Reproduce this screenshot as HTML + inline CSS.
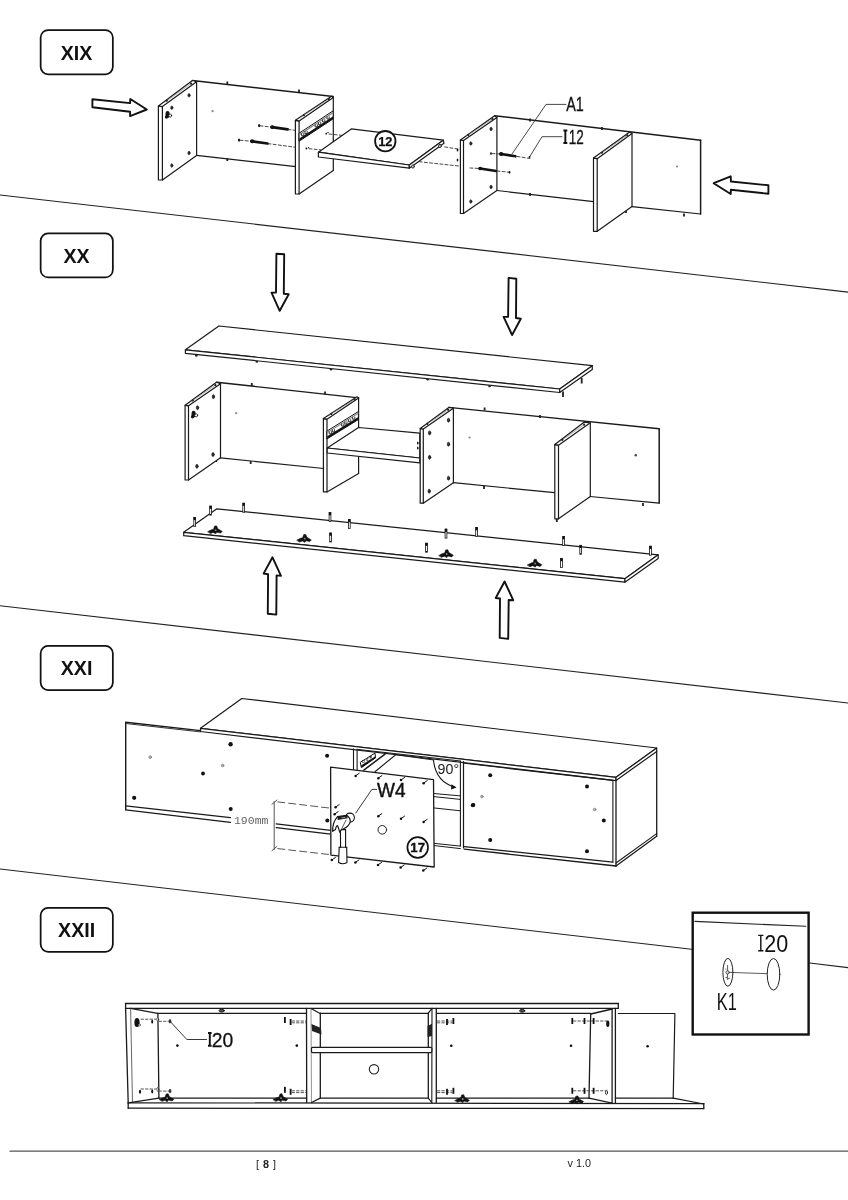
<!DOCTYPE html>
<html><head><meta charset="utf-8"><style>
html,body{margin:0;padding:0;background:#fff;width:848px;height:1200px;overflow:hidden;}
svg{position:absolute;left:0;top:0;display:block;will-change:transform;}
</style></head><body>
<svg width="848" height="1200" viewBox="0 0 848 1200" stroke-linecap="round">
<rect x="40.65" y="30.05" width="72.19999999999999" height="44.19999999999999" rx="7.5" ry="7.5" fill="none" stroke="#111" stroke-width="1.75"/>
<text x="76.6" y="59.9" font-family="Liberation Sans" font-size="19.6" font-weight="bold" text-anchor="middle" fill="#111" >XIX</text>
<rect x="40.65" y="233.35" width="72.19999999999999" height="44.10000000000001" rx="7.5" ry="7.5" fill="none" stroke="#111" stroke-width="1.75"/>
<text x="76.6" y="262.6" font-family="Liberation Sans" font-size="19.6" font-weight="bold" text-anchor="middle" fill="#111" >XX</text>
<rect x="40.65" y="645.85" width="72.19999999999999" height="44.199999999999974" rx="7.5" ry="7.5" fill="none" stroke="#111" stroke-width="1.75"/>
<text x="76.6" y="675.3" font-family="Liberation Sans" font-size="19.6" font-weight="bold" text-anchor="middle" fill="#111" >XXI</text>
<rect x="40.65" y="907.85" width="72.19999999999999" height="43.90000000000002" rx="7.5" ry="7.5" fill="none" stroke="#111" stroke-width="1.75"/>
<text x="76.6" y="936.9" font-family="Liberation Sans" font-size="19.6" font-weight="bold" text-anchor="middle" fill="#111" >XXII</text>
<line x1="0" y1="195" x2="848" y2="292.1" stroke="#222" stroke-width="1.1" />
<line x1="0" y1="605.7" x2="848" y2="703" stroke="#222" stroke-width="1.1" />
<line x1="0" y1="869" x2="691.5" y2="949.3" stroke="#222" stroke-width="1.1" />
<line x1="809.8" y1="963" x2="848" y2="967.6" stroke="#222" stroke-width="1.1" />
<polygon points="92.4,99.2 130.1,103.1 130.3,99 146.8,109.5 130.1,116.1 130.1,111.7 92.4,107.2" fill="white" stroke="#111" stroke-width="1.9" stroke-linejoin="round" />
<polygon points="713.7,183.2 730.7,176.3 730.9,181.5 768.4,185.3 768.4,193.8 730.9,189.7 730.7,194" fill="white" stroke="#111" stroke-width="1.9" stroke-linejoin="round" />
<polygon points="276.4,253.7 284.2,254.3 283.8,293.8 288.7,294.2 279.7,310.8 271.5,292.6 276,292.6" fill="white" stroke="#111" stroke-width="1.9" stroke-linejoin="round" />
<polygon points="508.6,277.9 516.3,278.7 516,318 520.8,318.7 512.1,335 503.6,316.9 508.1,316.9" fill="white" stroke="#111" stroke-width="1.9" stroke-linejoin="round" />
<polygon points="272.5,557.3 281,575.9 276.6,575.4 276.3,614.6 267.8,613.7 268.1,574.2 263.6,573.6" fill="white" stroke="#111" stroke-width="1.9" stroke-linejoin="round" />
<polygon points="504.6,581.5 513.2,600.2 508.7,600 508.2,638.9 499.7,637.9 500,598.5 495.7,598" fill="white" stroke="#111" stroke-width="1.9" stroke-linejoin="round" />
<line x1="10" y1="1151.2" x2="848" y2="1151.2" stroke="#555" stroke-width="1.2" />
<text x="266" y="1167.5" font-family="Liberation Sans" font-size="10.8" font-weight="normal" text-anchor="middle" fill="#222" >[<tspan font-weight="bold" dx="4">8</tspan><tspan dx="4">]</tspan></text>
<text x="579.3" y="1167" font-family="Liberation Sans" font-size="10.8" font-weight="normal" text-anchor="middle" fill="#222" >v 1.0</text>
<polygon points="196.6,81.8 333.3,96.5 333.3,170.4 196.6,155.4" fill="white" stroke="#1a1a1a" stroke-width="0" stroke-linejoin="round" />
<line x1="192.4" y1="80.5" x2="333.3" y2="96.5" stroke="#1a1a1a" stroke-width="1.4" />
<line x1="196.6" y1="155.4" x2="295.7" y2="166.7" stroke="#1a1a1a" stroke-width="1.2" />
<circle cx="212.6" cy="111.2" r="1.1" fill="#888"/>
<rect x="226.4" y="81.5" width="1.8" height="3" fill="#222"/>
<rect x="298.1" y="89.5" width="1.8" height="3" fill="#222"/>
<rect x="226.4" y="158" width="1.8" height="3" fill="#222"/>
<polygon points="162.4,106.6 196.6,81.8 196.6,155.4 162.4,180" fill="white"/>
<polygon points="158.4,180 158.4,106 162.4,106.6 162.4,180" fill="white" stroke="#1a1a1a" stroke-width="1.2" stroke-linejoin="round" />
<polygon points="158.4,106 192.4,80.5 196.6,81.8 162.4,106.6" fill="white" stroke="#1a1a1a" stroke-width="1.2" stroke-linejoin="round" />
<line x1="164.75600000000003" y1="102.15" x2="191.12" y2="83.625" stroke="#888" stroke-width="0.7"/>
<circle cx="166.78400000000002" cy="100.725" r="1.1" fill="#222"/>
<circle cx="191.12" cy="83.625" r="1.1" fill="#222"/>
<line x1="162.4" y1="180" x2="196.6" y2="155.4" stroke="#1a1a1a" stroke-width="1.2" />
<line x1="196.6" y1="81.8" x2="196.6" y2="155.4" stroke="#1a1a1a" stroke-width="1.2" />
<ellipse cx="189" cy="95.3" rx="1.1" ry="1.8" fill="#333" stroke="#111" stroke-width="0.6"/>
<ellipse cx="171.8" cy="107.7" rx="1.1" ry="1.8" fill="#333" stroke="#111" stroke-width="0.6"/>
<ellipse cx="189" cy="153" rx="1.1" ry="1.8" fill="#333" stroke="#111" stroke-width="0.6"/>
<ellipse cx="171.8" cy="165.5" rx="1.1" ry="1.8" fill="#333" stroke="#111" stroke-width="0.6"/>
<ellipse cx="167.6" cy="114.4" rx="2.1" ry="3.4" fill="#111" stroke="none" stroke-width="1" transform="rotate(0 167.6 114.4)"/>
<ellipse cx="166.5" cy="117" rx="1.6" ry="1.8" fill="#111" stroke="none" stroke-width="1" transform="rotate(0 166.5 117)"/>
<ellipse cx="170.2" cy="115.6" rx="1.5" ry="1.5" fill="#fff" stroke="#111" stroke-width="0.8" transform="rotate(0 170.2 115.6)"/>
<ellipse cx="259.1" cy="125.6" rx="1.1" ry="1.7" fill="#111" stroke="none" stroke-width="1" transform="rotate(0 259.1 125.6)"/>
<line x1="260" y1="125.8" x2="272" y2="127.1" stroke="#333" stroke-width="0.9" stroke-dasharray="3,2.2"/>
<line x1="272.1" y1="127.1" x2="287.8" y2="129.4" stroke="#111" stroke-width="2.7" />
<line x1="272.1" y1="127.1" x2="272.40000000000003" y2="127.1" stroke="#111" stroke-width="3.9000000000000004" />
<line x1="288" y1="129.5" x2="295.7" y2="130.4" stroke="#333" stroke-width="0.9" stroke-dasharray="3,2.2"/>
<ellipse cx="239" cy="140.1" rx="1.1" ry="1.7" fill="#111" stroke="none" stroke-width="1" transform="rotate(0 239 140.1)"/>
<line x1="240" y1="140.2" x2="252" y2="141.3" stroke="#333" stroke-width="0.9" stroke-dasharray="3,2.2"/>
<line x1="252" y1="141.3" x2="267.6" y2="143.5" stroke="#111" stroke-width="2.7" />
<line x1="252" y1="141.3" x2="252.3" y2="141.3" stroke="#111" stroke-width="3.9000000000000004" />
<line x1="268" y1="143.6" x2="295.7" y2="147.3" stroke="#333" stroke-width="0.9" stroke-dasharray="3,2.2"/>
<polygon points="299.1,120.89999999999999 333.3,97.4 333.3,170.4 299.1,194" fill="white"/>
<polygon points="295.4,194 295.4,120.3 299.1,120.89999999999999 299.1,194" fill="white" stroke="#1a1a1a" stroke-width="1.2" stroke-linejoin="round" />
<polygon points="295.4,120.3 331.5,96.2 333.3,97.4 299.1,120.89999999999999" fill="white" stroke="#1a1a1a" stroke-width="1.2" stroke-linejoin="round" />
<line x1="301.732" y1="116.612" x2="328.91499999999996" y2="99.14" stroke="#888" stroke-width="0.7"/>
<circle cx="303.823" cy="115.268" r="1.1" fill="#222"/>
<circle cx="328.91499999999996" cy="99.14" r="1.1" fill="#222"/>
<line x1="299.1" y1="194" x2="333.3" y2="170.4" stroke="#1a1a1a" stroke-width="1.2" />
<line x1="333.3" y1="97.4" x2="333.3" y2="170.4" stroke="#1a1a1a" stroke-width="1.2" />
<polygon points="299.3,133.1 333.2,110.8 333.2,118.8 299.3,141.1" fill="white" stroke="#111" stroke-width="1" stroke-linejoin="round"/>
<polygon points="299.3,138.54 333.2,116.24 333.2,118.8 299.3,141.1" fill="#111"/>
<polygon points="299.3,134.06 333.2,111.75999999999999 333.2,113.2 299.3,135.5" fill="#888"/>
<path d="M301.59,133.75 L301.59,135.83 L303.79,135.67000000000002 L303.79,133.59" fill="none" stroke="#222" stroke-width="0.9"/>
<path d="M304.97999999999996,131.51999999999998 L304.97999999999996,133.6 L307.18,133.44 L307.18,131.35999999999999" fill="none" stroke="#222" stroke-width="0.9"/>
<path d="M315.15,124.82999999999998 L315.15,126.90999999999998 L317.35,126.74999999999999 L317.35,124.66999999999999" fill="none" stroke="#222" stroke-width="0.9"/>
<path d="M318.53999999999996,122.6 L318.53999999999996,124.67999999999999 L320.74,124.52 L320.74,122.44" fill="none" stroke="#222" stroke-width="0.9"/>
<path d="M322.60799999999995,119.92399999999999 L322.60799999999995,122.00399999999999 L324.808,121.844 L324.808,119.764" fill="none" stroke="#222" stroke-width="0.9"/>
<path d="M327.015,117.02499999999999 L327.015,119.10499999999999 L329.21500000000003,118.945 L329.21500000000003,116.865" fill="none" stroke="#222" stroke-width="0.9"/>
<circle cx="326.2" cy="133.7" r="0.9" fill="#111"/>
<circle cx="328" cy="132.5" r="0.7" fill="#111"/>
<line x1="329" y1="134" x2="345.2" y2="135.7" stroke="#333" stroke-width="0.9" stroke-dasharray="3,2.2"/>
<circle cx="306.4" cy="148.5" r="0.9" fill="#111"/>
<circle cx="308.5" cy="147.6" r="0.7" fill="#111"/>
<line x1="309" y1="148.7" x2="320.5" y2="149.8" stroke="#333" stroke-width="0.9" stroke-dasharray="3,2.2"/>
<polygon points="318.4,152.2 351.3,128.9 443.3,140.2 409.3,165" fill="white" stroke="#1a1a1a" stroke-width="1.2" stroke-linejoin="round" />
<polygon points="318.4,152.2 409.3,165 409.3,168.2 318.4,157" fill="white" stroke="#1a1a1a" stroke-width="1.2" stroke-linejoin="round" />
<polygon points="409.3,165 443.3,140.2 444,143.3 409.3,168.2" fill="white" stroke="#1a1a1a" stroke-width="1.2" stroke-linejoin="round" />
<circle cx="385.3" cy="141.2" r="10.2" fill="white" stroke="#111" stroke-width="1.8"/>
<text x="385.3" y="145.9" font-family="Liberation Sans" font-size="12.8" font-weight="bold" text-anchor="middle" fill="#111" stroke="#111" stroke-width="0.25">12</text>
<line x1="444.7" y1="146.9" x2="460.5" y2="149.5" stroke="#333" stroke-width="0.9" stroke-dasharray="3,2.2"/>
<line x1="419.2" y1="161.7" x2="460.5" y2="166.2" stroke="#333" stroke-width="0.9" stroke-dasharray="3,2.2"/>
<ellipse cx="413" cy="166.5" rx="1.3" ry="1.6" fill="#fff" stroke="#111" stroke-width="0.9" transform="rotate(0 413 166.5)"/>
<ellipse cx="440" cy="146" rx="1.3" ry="1.6" fill="#fff" stroke="#111" stroke-width="0.9" transform="rotate(0 440 146)"/>
<polygon points="496.9,117.4 700.6,140.2 700.6,214 496.9,190.5" fill="white" stroke="#1a1a1a" stroke-width="0" stroke-linejoin="round" />
<line x1="494.6" y1="115.7" x2="700.6" y2="140.2" stroke="#1a1a1a" stroke-width="1.4" />
<line x1="496.9" y1="190.5" x2="593.6" y2="201.7" stroke="#1a1a1a" stroke-width="1.2" />
<line x1="632" y1="206.6" x2="700.6" y2="214" stroke="#1a1a1a" stroke-width="1.2" />
<line x1="700.6" y1="140.2" x2="700.6" y2="214" stroke="#1a1a1a" stroke-width="1.5" />
<circle cx="677" cy="166.5" r="1.1" fill="#888"/>
<rect x="529.1" y="118.5" width="1.8" height="3" fill="#222"/>
<rect x="601.1" y="127" width="1.8" height="3" fill="#222"/>
<rect x="529.1" y="193" width="1.8" height="3" fill="#222"/>
<rect x="683.1" y="213.5" width="1.8" height="3" fill="#222"/>
<rect x="625.1" y="210" width="1.8" height="3" fill="#222"/>
<polygon points="463.5,140.6 496.9,117.4 496.9,190.5 463.5,213.5" fill="white"/>
<polygon points="460.4,213.5 460.4,140 463.5,140.6 463.5,213.5" fill="white" stroke="#1a1a1a" stroke-width="1.2" stroke-linejoin="round" />
<polygon points="460.4,140 494.6,115.7 496.9,117.4 463.5,140.6" fill="white" stroke="#1a1a1a" stroke-width="1.2" stroke-linejoin="round" />
<line x1="466.27" y1="136.318" x2="492.4" y2="118.885" stroke="#888" stroke-width="0.7"/>
<circle cx="468.28" cy="134.977" r="1.1" fill="#222"/>
<circle cx="492.4" cy="118.885" r="1.1" fill="#222"/>
<line x1="463.5" y1="213.5" x2="496.9" y2="190.5" stroke="#1a1a1a" stroke-width="1.2" />
<line x1="496.9" y1="117.4" x2="496.9" y2="190.5" stroke="#1a1a1a" stroke-width="1.2" />
<ellipse cx="491" cy="129" rx="1.1" ry="1.8" fill="#333" stroke="#111" stroke-width="0.6"/>
<ellipse cx="470.8" cy="143.5" rx="1.1" ry="1.8" fill="#333" stroke="#111" stroke-width="0.6"/>
<ellipse cx="491" cy="187" rx="1.1" ry="1.8" fill="#333" stroke="#111" stroke-width="0.6"/>
<ellipse cx="470.8" cy="201.5" rx="1.1" ry="1.8" fill="#333" stroke="#111" stroke-width="0.6"/>
<ellipse cx="491" cy="153.5" rx="0.9" ry="1.3" fill="#111" stroke="none" stroke-width="1" transform="rotate(0 491 153.5)"/>
<line x1="492" y1="153.6" x2="501" y2="154" stroke="#333" stroke-width="0.9" stroke-dasharray="3,2.2"/>
<line x1="501" y1="154" x2="514" y2="156" stroke="#111" stroke-width="2.7" />
<line x1="501" y1="154" x2="501.3" y2="154" stroke="#111" stroke-width="3.9000000000000004" />
<ellipse cx="515.5" cy="156.2" rx="1" ry="1.5" fill="#111" stroke="none" stroke-width="1" transform="rotate(0 515.5 156.2)"/>
<line x1="517" y1="156.4" x2="530" y2="158.5" stroke="#333" stroke-width="0.9" stroke-dasharray="3,2.2"/>
<line x1="470" y1="168" x2="480" y2="168.5" stroke="#333" stroke-width="0.9" stroke-dasharray="3,2.2"/>
<line x1="480" y1="168.5" x2="496" y2="171" stroke="#111" stroke-width="2.4" />
<line x1="480" y1="168.5" x2="480.3" y2="168.5" stroke="#111" stroke-width="3.5999999999999996" />
<line x1="497" y1="171" x2="509" y2="172.2" stroke="#333" stroke-width="0.9" stroke-dasharray="3,2.2"/>
<ellipse cx="509.5" cy="172.3" rx="0.9" ry="1.4" fill="#111" stroke="none" stroke-width="1" transform="rotate(0 509.5 172.3)"/>
<ellipse cx="457.5" cy="150" rx="0.8" ry="1.5" fill="#111" stroke="none" stroke-width="1" transform="rotate(0 457.5 150)"/>
<ellipse cx="457.5" cy="160" rx="0.8" ry="1.5" fill="#111" stroke="none" stroke-width="1" transform="rotate(0 457.5 160)"/>
<polyline points="512,154 546,104.4 566,104.4" fill="none" stroke="#333" stroke-width="0.9" stroke-linejoin="round" />
<polyline points="529.5,157 542,136.7 562,136.7" fill="none" stroke="#333" stroke-width="0.9" stroke-linejoin="round" />
<circle cx="529.5" cy="157" r="0.9" fill="#111"/>
<text x="566.2" y="111.1" font-family="Liberation Sans" font-size="19.71" font-weight="normal" text-anchor="start" fill="#111" textLength="17.6" lengthAdjust="spacingAndGlyphs" stroke="#111" stroke-width="0.3">A1</text>
<path d="M565.3499999999999,130.45 L565.3499999999999,143.05 M563.4,130.45 L567.3,130.45 M563.4,143.05 L567.3,143.05" stroke="#111" stroke-width="1.9" fill="none" stroke-linecap="butt"/>
<text x="568.8" y="144" font-family="Liberation Sans" font-size="20.71" font-weight="normal" text-anchor="start" fill="#111" textLength="15" lengthAdjust="spacingAndGlyphs" stroke="#111" stroke-width="0.3">12</text>
<polygon points="597.2,158.7 632,133.5 632,206.6 597.2,231.3" fill="white"/>
<polygon points="593.5,231.3 593.5,158.1 597.2,158.7 597.2,231.3" fill="white" stroke="#1a1a1a" stroke-width="1.2" stroke-linejoin="round" />
<polygon points="593.5,158.1 629.7,132.1 632,133.5 597.2,158.7" fill="white" stroke="#1a1a1a" stroke-width="1.2" stroke-linejoin="round" />
<line x1="599.874" y1="154.19599999999997" x2="627.33" y2="135.32" stroke="#888" stroke-width="0.7"/>
<circle cx="601.986" cy="152.74399999999997" r="1.1" fill="#222"/>
<circle cx="627.33" cy="135.32" r="1.1" fill="#222"/>
<line x1="597.2" y1="231.3" x2="632" y2="206.6" stroke="#1a1a1a" stroke-width="1.2" />
<line x1="632" y1="133.5" x2="632" y2="206.6" stroke="#1a1a1a" stroke-width="1.2" />
<polygon points="185.4,349.8 218.9,326 592.3,365.7 559.7,389" fill="white" stroke="#1a1a1a" stroke-width="1.2" stroke-linejoin="round" />
<polygon points="185.4,349.8 559.7,389 559.7,392.5 185.4,353.3" fill="white" stroke="#1a1a1a" stroke-width="1.2" stroke-linejoin="round" />
<polygon points="559.7,389 592.3,365.7 592.3,369.6 559.7,392.5" fill="white" stroke="#1a1a1a" stroke-width="1.2" stroke-linejoin="round" />
<ellipse cx="196.3" cy="355.7" rx="1.4" ry="1" fill="#222" stroke="none" stroke-width="1" transform="rotate(0 196.3 355.7)"/>
<ellipse cx="256.8" cy="361.8" rx="1.4" ry="1" fill="#222" stroke="none" stroke-width="1" transform="rotate(0 256.8 361.8)"/>
<ellipse cx="331" cy="369.6" rx="1.4" ry="1" fill="#222" stroke="none" stroke-width="1" transform="rotate(0 331 369.6)"/>
<ellipse cx="427.6" cy="379.6" rx="1.4" ry="1" fill="#222" stroke="none" stroke-width="1" transform="rotate(0 427.6 379.6)"/>
<ellipse cx="489.6" cy="386.2" rx="1.4" ry="1" fill="#222" stroke="none" stroke-width="1" transform="rotate(0 489.6 386.2)"/>
<rect x="562.1" y="391.5" width="1.8" height="5.5" fill="#222"/>
<rect x="580.8000000000001" y="378.0" width="1.8" height="5.5" fill="#222"/>
<polygon points="220.5,383.7 358.6,397.9 358.6,473.5 220.5,457.8" fill="white" stroke="#1a1a1a" stroke-width="0" stroke-linejoin="round" />
<line x1="216.5" y1="382.2" x2="358.6" y2="397.9" stroke="#1a1a1a" stroke-width="1.4" />
<line x1="220.5" y1="457.8" x2="323.7" y2="468.5" stroke="#1a1a1a" stroke-width="1.2" />
<circle cx="236.2" cy="413.2" r="1.1" fill="#888"/>
<rect x="250.9" y="383" width="1.8" height="3" fill="#222"/>
<rect x="324.1" y="391.5" width="1.8" height="3" fill="#222"/>
<rect x="249.79999999999998" y="461" width="1.8" height="3" fill="#222"/>
<rect x="215.29999999999998" y="459" width="1.8" height="3" fill="#222"/>
<polygon points="188.5,405.8 220.5,383.7 220.5,457.8 188.5,480" fill="white"/>
<polygon points="185.1,480 185.1,405.2 188.5,405.8 188.5,480" fill="white" stroke="#1a1a1a" stroke-width="1.2" stroke-linejoin="round" />
<polygon points="185.1,405.2 216.5,382.2 220.5,383.7 188.5,405.8" fill="white" stroke="#1a1a1a" stroke-width="1.2" stroke-linejoin="round" />
<line x1="190.86800000000002" y1="401.662" x2="215.36" y2="385.165" stroke="#888" stroke-width="0.7"/>
<circle cx="192.752" cy="400.393" r="1.1" fill="#222"/>
<circle cx="215.36" cy="385.165" r="1.1" fill="#222"/>
<line x1="188.5" y1="480" x2="220.5" y2="457.8" stroke="#1a1a1a" stroke-width="1.2" />
<line x1="220.5" y1="383.7" x2="220.5" y2="457.8" stroke="#1a1a1a" stroke-width="1.2" />
<ellipse cx="213.4" cy="396.7" rx="1.2" ry="2" fill="#333" stroke="#111" stroke-width="0.6"/>
<ellipse cx="197.5" cy="407.7" rx="1.2" ry="2" fill="#333" stroke="#111" stroke-width="0.6"/>
<ellipse cx="213" cy="454.6" rx="1.2" ry="2" fill="#333" stroke="#111" stroke-width="0.6"/>
<ellipse cx="196.9" cy="466.3" rx="1.2" ry="2" fill="#333" stroke="#111" stroke-width="0.6"/>
<ellipse cx="193.6" cy="414.1" rx="2.1" ry="3.4" fill="#111" stroke="none" stroke-width="1" transform="rotate(0 193.6 414.1)"/>
<ellipse cx="192.5" cy="416.7" rx="1.6" ry="1.8" fill="#111" stroke="none" stroke-width="1" transform="rotate(0 192.5 416.7)"/>
<ellipse cx="196.2" cy="415.3" rx="1.5" ry="1.5" fill="#fff" stroke="#111" stroke-width="0.8" transform="rotate(0 196.2 415.3)"/>
<polygon points="327,419.20000000000005 358.6,397.9 358.6,473.5 327,491.9" fill="white"/>
<polygon points="323.4,491.9 323.4,418.6 327,419.20000000000005 327,491.9" fill="white" stroke="#1a1a1a" stroke-width="1.2" stroke-linejoin="round" />
<polygon points="323.4,418.6 357,396.8 358.6,397.9 327,419.20000000000005" fill="white" stroke="#1a1a1a" stroke-width="1.2" stroke-linejoin="round" />
<line x1="329.376" y1="415.182" x2="354.57" y2="399.46500000000003" stroke="#888" stroke-width="0.7"/>
<circle cx="331.314" cy="413.973" r="1.1" fill="#222"/>
<circle cx="354.57" cy="399.46500000000003" r="1.1" fill="#222"/>
<line x1="327" y1="491.9" x2="358.6" y2="473.5" stroke="#1a1a1a" stroke-width="1.2" />
<line x1="358.6" y1="397.9" x2="358.6" y2="473.5" stroke="#1a1a1a" stroke-width="1.2" />
<polygon points="327.2,431 358.4,411.5 358.4,419.5 327.2,438.8" fill="white" stroke="#111" stroke-width="1" stroke-linejoin="round"/>
<polygon points="327.2,436.30400000000003 358.4,417.004 358.4,419.5 327.2,438.8" fill="#111"/>
<polygon points="327.2,431.936 358.4,412.436 358.4,413.84000000000003 327.2,433.34000000000003" fill="#888"/>
<path d="M329.21999999999997,431.858 L329.21999999999997,433.886 L331.42,433.73 L331.42,431.702" fill="none" stroke="#222" stroke-width="0.9"/>
<path d="M332.34,429.908 L332.34,431.93600000000004 L334.54,431.78000000000003 L334.54,429.752" fill="none" stroke="#222" stroke-width="0.9"/>
<path d="M341.69999999999993,424.058 L341.69999999999993,426.086 L343.9,425.93 L343.9,423.902" fill="none" stroke="#222" stroke-width="0.9"/>
<path d="M344.81999999999994,422.108 L344.81999999999994,424.136 L347.02,423.98 L347.02,421.952" fill="none" stroke="#222" stroke-width="0.9"/>
<path d="M348.56399999999996,419.768 L348.56399999999996,421.796 L350.764,421.64 L350.764,419.61199999999997" fill="none" stroke="#222" stroke-width="0.9"/>
<path d="M352.61999999999995,417.233 L352.61999999999995,419.261 L354.82,419.105 L354.82,417.077" fill="none" stroke="#222" stroke-width="0.9"/>
<polygon points="327.2,448 358.6,427.5 419.8,433.2 419.8,458" fill="white" stroke="#1a1a1a" stroke-width="1.2" stroke-linejoin="round" />
<polygon points="327.2,448 419.8,458 419.8,462.9 327.2,453" fill="white" stroke="#1a1a1a" stroke-width="1.2" stroke-linejoin="round" />
<polygon points="453.4,408.2 659.2,428.8 659.2,503.1 453.4,482.7" fill="white" stroke="#1a1a1a" stroke-width="0" stroke-linejoin="round" />
<line x1="448.8" y1="407.4" x2="659.2" y2="428.8" stroke="#1a1a1a" stroke-width="1.4" />
<line x1="453.4" y1="482.7" x2="554.5" y2="492.6" stroke="#1a1a1a" stroke-width="1.2" />
<line x1="590" y1="496.5" x2="659.2" y2="503.1" stroke="#1a1a1a" stroke-width="1.2" />
<line x1="659.2" y1="428.8" x2="659.2" y2="503.1" stroke="#1a1a1a" stroke-width="1.5" />
<circle cx="469.5" cy="437.5" r="1.1" fill="#888"/>
<circle cx="635.8" cy="455.3" r="1.2" fill="#444"/>
<rect x="483.70000000000005" y="407.5" width="1.8" height="3" fill="#222"/>
<rect x="483.1" y="486" width="1.8" height="3" fill="#222"/>
<rect x="539.1" y="415" width="1.8" height="3" fill="#222"/>
<rect x="642.1" y="503" width="1.8" height="3" fill="#222"/>
<rect x="555.9" y="519" width="1.8" height="3" fill="#222"/>
<polygon points="423.3,429.1 453.4,408.2 453.4,482.7 423.3,503.2" fill="white"/>
<polygon points="420.2,503.2 420.2,428.5 423.3,429.1 423.3,503.2" fill="white" stroke="#1a1a1a" stroke-width="1.2" stroke-linejoin="round" />
<polygon points="420.2,428.5 448.8,407.4 453.4,408.2 423.3,429.1" fill="white" stroke="#1a1a1a" stroke-width="1.2" stroke-linejoin="round" />
<line x1="425.536" y1="425.148" x2="448.19500000000005" y2="409.85999999999996" stroke="#888" stroke-width="0.7"/>
<circle cx="427.279" cy="423.972" r="1.1" fill="#222"/>
<circle cx="448.19500000000005" cy="409.85999999999996" r="1.1" fill="#222"/>
<line x1="423.3" y1="503.2" x2="453.4" y2="482.7" stroke="#1a1a1a" stroke-width="1.2" />
<line x1="453.4" y1="408.2" x2="453.4" y2="482.7" stroke="#1a1a1a" stroke-width="1.2" />
<ellipse cx="448.5" cy="420.2" rx="1.2" ry="2" fill="#333" stroke="#111" stroke-width="0.6"/>
<ellipse cx="429.6" cy="432.9" rx="1.2" ry="2" fill="#333" stroke="#111" stroke-width="0.6"/>
<ellipse cx="448.5" cy="444.2" rx="1.2" ry="2" fill="#333" stroke="#111" stroke-width="0.6"/>
<ellipse cx="429.6" cy="457.3" rx="1.2" ry="2" fill="#333" stroke="#111" stroke-width="0.6"/>
<ellipse cx="448.5" cy="478.2" rx="1.2" ry="2" fill="#333" stroke="#111" stroke-width="0.6"/>
<ellipse cx="429.2" cy="491.2" rx="1.2" ry="2" fill="#333" stroke="#111" stroke-width="0.6"/>
<ellipse cx="417.8" cy="443" rx="0.8" ry="1.6" fill="#111" stroke="none" stroke-width="1" transform="rotate(0 417.8 443)"/>
<ellipse cx="417.8" cy="448" rx="0.8" ry="1.6" fill="#111" stroke="none" stroke-width="1" transform="rotate(0 417.8 448)"/>
<polygon points="558.5,445.20000000000005 590.3,422.8 590.3,496.5 558.5,518.8" fill="white"/>
<polygon points="554.8,518.8 554.8,444.6 558.5,445.20000000000005 558.5,518.8" fill="white" stroke="#1a1a1a" stroke-width="1.2" stroke-linejoin="round" />
<polygon points="554.8,444.6 584,422.2 590.3,422.8 558.5,445.20000000000005" fill="white" stroke="#1a1a1a" stroke-width="1.2" stroke-linejoin="round" />
<line x1="560.574" y1="441.08000000000004" x2="584.13" y2="424.70000000000005" stroke="#888" stroke-width="0.7"/>
<circle cx="562.386" cy="439.82000000000005" r="1.1" fill="#222"/>
<circle cx="584.13" cy="424.70000000000005" r="1.1" fill="#222"/>
<line x1="558.5" y1="518.8" x2="590.3" y2="496.5" stroke="#1a1a1a" stroke-width="1.2" />
<line x1="590.3" y1="422.8" x2="590.3" y2="496.5" stroke="#1a1a1a" stroke-width="1.2" />
<polygon points="183.7,532.3 216.9,508.8 658.2,554.8 624.9,578.7" fill="white" stroke="#1a1a1a" stroke-width="1.2" stroke-linejoin="round" />
<polygon points="183.7,532.3 624.9,578.7 624.9,582.2 183.7,535.7" fill="white" stroke="#1a1a1a" stroke-width="1.2" stroke-linejoin="round" />
<polygon points="624.9,578.7 658.2,554.8 658.2,558.6 624.9,582.2" fill="white" stroke="#1a1a1a" stroke-width="1.2" stroke-linejoin="round" />
<rect x="193.79999999999998" y="517.4" width="1.8" height="9" fill="white" stroke="#111" stroke-width="0.8"/>
<rect x="193.6" y="517.1" width="2.2" height="3" fill="#111"/>
<rect x="209.7" y="506.1" width="1.8" height="9" fill="white" stroke="#111" stroke-width="0.8"/>
<rect x="209.5" y="505.8" width="2.2" height="3" fill="#111"/>
<rect x="242.79999999999998" y="503.2" width="1.8" height="9" fill="white" stroke="#111" stroke-width="0.8"/>
<rect x="242.6" y="502.9" width="2.2" height="3" fill="#111"/>
<rect x="329.1" y="512.6" width="1.8" height="9" fill="white" stroke="#111" stroke-width="0.8"/>
<rect x="328.9" y="512.3000000000001" width="2.2" height="3" fill="#111"/>
<rect x="348.40000000000003" y="519.4" width="1.8" height="9" fill="white" stroke="#111" stroke-width="0.8"/>
<rect x="348.2" y="519.1" width="2.2" height="3" fill="#111"/>
<rect x="329.70000000000005" y="533.0" width="1.8" height="9" fill="white" stroke="#111" stroke-width="0.8"/>
<rect x="329.5" y="532.7" width="2.2" height="3" fill="#111"/>
<rect x="445.1" y="529.1" width="1.8" height="9" fill="white" stroke="#111" stroke-width="0.8"/>
<rect x="444.9" y="528.8000000000001" width="2.2" height="3" fill="#111"/>
<rect x="475.70000000000005" y="527.6" width="1.8" height="9" fill="white" stroke="#111" stroke-width="0.8"/>
<rect x="475.5" y="527.3000000000001" width="2.2" height="3" fill="#111"/>
<rect x="425.6" y="543.2" width="1.8" height="9" fill="white" stroke="#111" stroke-width="0.8"/>
<rect x="425.4" y="542.9000000000001" width="2.2" height="3" fill="#111"/>
<rect x="562.7" y="536.5" width="1.8" height="9" fill="white" stroke="#111" stroke-width="0.8"/>
<rect x="562.5" y="536.2" width="2.2" height="3" fill="#111"/>
<rect x="579.8000000000001" y="545.3" width="1.8" height="9" fill="white" stroke="#111" stroke-width="0.8"/>
<rect x="579.6" y="545.0" width="2.2" height="3" fill="#111"/>
<rect x="649.6" y="546.2" width="1.8" height="9" fill="white" stroke="#111" stroke-width="0.8"/>
<rect x="649.4" y="545.9000000000001" width="2.2" height="3" fill="#111"/>
<rect x="560.6" y="558.6" width="1.8" height="9" fill="white" stroke="#111" stroke-width="0.8"/>
<rect x="560.4" y="558.3000000000001" width="2.2" height="3" fill="#111"/>
<path d="M207.9,531.6 L211.4,529.8 L213.6,529.2 L214.6,526.1 L216.6,525.9 L217.8,528.8 L222.2,531.4 L220.6,533.1 L216.9,532.2 L215.7,533.8 L213.2,532.4 L210.6,533.4 Z" fill="#111" stroke="#111" stroke-width="0.6" stroke-linejoin="round"/>
<circle cx="215.6" cy="530.1999999999999" r="0.9" fill="#888"/>
<path d="M297.0,540.1 L300.5,538.3 L302.7,537.7 L303.7,534.6 L305.7,534.4 L306.9,537.3 L311.3,539.9 L309.7,541.6 L306.0,540.7 L304.8,542.3 L302.3,540.9 L299.7,541.9 Z" fill="#111" stroke="#111" stroke-width="0.6" stroke-linejoin="round"/>
<circle cx="304.7" cy="538.6999999999999" r="0.9" fill="#888"/>
<path d="M439.0,555.4 L442.5,553.6 L444.7,553.0 L445.7,549.9 L447.7,549.7 L448.9,552.6 L453.3,555.2 L451.7,556.9 L448.0,556.0 L446.8,557.6 L444.3,556.2 L441.7,557.2 Z" fill="#111" stroke="#111" stroke-width="0.6" stroke-linejoin="round"/>
<circle cx="446.7" cy="554.0" r="0.9" fill="#888"/>
<path d="M527.5,564.9 L531.0,563.1 L533.2,562.5 L534.2,559.4 L536.2,559.2 L537.4,562.1 L541.8,564.7 L540.2,566.4 L536.5,565.5 L535.3,567.1 L532.8,565.7 L530.2,566.7 Z" fill="#111" stroke="#111" stroke-width="0.6" stroke-linejoin="round"/>
<circle cx="535.2" cy="563.5" r="0.9" fill="#888"/>
<polygon points="200.5,728.3 241.8,698.5 656.7,748 616,777.3" fill="white" stroke="#1a1a1a" stroke-width="1.2" stroke-linejoin="round" />
<polygon points="200.5,728.3 616,777.3 616,780.6 200.5,731.5" fill="white" stroke="#1a1a1a" stroke-width="1.2" stroke-linejoin="round" />
<polygon points="616,777.3 656.7,748 656.7,751.4 616,780.6" fill="white" stroke="#1a1a1a" stroke-width="1.2" stroke-linejoin="round" />
<polyline points="200.5,730.6 125.7,722.2 125.7,809.8" fill="none" stroke="#1a1a1a" stroke-width="1.4" stroke-linejoin="round" />
<line x1="126.5" y1="723.6" x2="200.5" y2="731.9" stroke="#333" stroke-width="1.0" />
<line x1="125.7" y1="805.8" x2="230.4" y2="817.6" stroke="#1a1a1a" stroke-width="1.3" />
<line x1="125.7" y1="809.8" x2="230.4" y2="822.3" stroke="#1a1a1a" stroke-width="1.3" />
<line x1="276.2" y1="823.8" x2="330.7" y2="830.4" stroke="#1a1a1a" stroke-width="1.3" />
<line x1="276.2" y1="827.6" x2="330.7" y2="834.2" stroke="#1a1a1a" stroke-width="1.3" />
<circle cx="230.6" cy="744.2" r="2.2" fill="#111"/>
<circle cx="203" cy="773.5" r="1.9" fill="#111"/>
<circle cx="134.2" cy="797.8" r="2.1" fill="#111"/>
<circle cx="230.7" cy="809.1" r="2" fill="#111"/>
<circle cx="327.1" cy="755.8" r="2" fill="#111"/>
<circle cx="327.3" cy="820.6" r="2" fill="#111"/>
<circle cx="150.2" cy="757.2" r="1.3" fill="#bbb" stroke="#666" stroke-width="0.6"/>
<circle cx="222.6" cy="765.6" r="1.3" fill="#bbb" stroke="#666" stroke-width="0.6"/>
<line x1="353.5" y1="748.8" x2="353.5" y2="830" stroke="#1a1a1a" stroke-width="1.1" />
<line x1="357.1" y1="749.3" x2="357.1" y2="830" stroke="#1a1a1a" stroke-width="1.1" />
<line x1="460.4" y1="761" x2="460.4" y2="846" stroke="#1a1a1a" stroke-width="1.1" />
<line x1="463.5" y1="761.5" x2="463.5" y2="848" stroke="#1a1a1a" stroke-width="1.2" />
<line x1="395.6" y1="754.7" x2="433.9" y2="760" stroke="#1a1a1a" stroke-width="1.0" />
<line x1="357.4" y1="749.4" x2="460.4" y2="761" stroke="#1a1a1a" stroke-width="1.0" />
<polygon points="360.6,762.1 375,753.1 375.5,757.9 361.7,767.4" fill="white" stroke="#111" stroke-width="1"/>
<polygon points="361,765.5 375.3,756.3 375.5,757.9 361.7,767.4" fill="#111"/>
<rect x="362.68" y="760.6" width="1.6" height="2" fill="none" stroke="#333" stroke-width="0.6"/>
<rect x="366.28000000000003" y="758.35" width="1.6" height="2" fill="none" stroke="#333" stroke-width="0.6"/>
<rect x="369.88" y="756.1" width="1.6" height="2" fill="none" stroke="#333" stroke-width="0.6"/>
<line x1="363.8" y1="770.1" x2="385" y2="754.1" stroke="#1a1a1a" stroke-width="1.5" />
<line x1="375" y1="771.7" x2="395.1" y2="755.2" stroke="#1a1a1a" stroke-width="1.1" />
<line x1="433.5" y1="793.5" x2="460.4" y2="795.9" stroke="#1a1a1a" stroke-width="1" />
<line x1="433.5" y1="796.6" x2="460.4" y2="799.4" stroke="#1a1a1a" stroke-width="1" />
<line x1="433.5" y1="807.9" x2="460.4" y2="810.8" stroke="#1a1a1a" stroke-width="1" />
<line x1="433.5" y1="843.3" x2="460.4" y2="846.1" stroke="#1a1a1a" stroke-width="1" />
<line x1="434.2" y1="845.6" x2="460.4" y2="848.6" stroke="#1a1a1a" stroke-width="1" />
<path d="M433.5,760.5 Q436,782 455,787.2" fill="none" stroke="#111" stroke-width="1.1"/>
<polygon points="456.5,787.4 451.5,784.2 451,789.6" fill="#111"/>
<text x="437.6" y="774" font-family="Liberation Sans" font-size="14.29" font-weight="normal" text-anchor="start" fill="#222" textLength="21.5" lengthAdjust="spacingAndGlyphs">90°</text>
<line x1="464.3" y1="763.3" x2="612.9" y2="780.4" stroke="#1a1a1a" stroke-width="1.1" />
<line x1="612.9" y1="780.4" x2="612.9" y2="862.1" stroke="#1a1a1a" stroke-width="1.1" />
<line x1="616" y1="780.6" x2="616" y2="866" stroke="#1a1a1a" stroke-width="1.3" />
<line x1="464.3" y1="846.6" x2="612.9" y2="862.1" stroke="#1a1a1a" stroke-width="1.2" />
<line x1="464.3" y1="849.2" x2="616" y2="866" stroke="#1a1a1a" stroke-width="1.3" />
<circle cx="490.2" cy="775.2" r="2" fill="#111"/>
<circle cx="587" cy="786.4" r="2" fill="#111"/>
<circle cx="473.3" cy="805" r="2" fill="#111"/>
<circle cx="603.8" cy="820.6" r="2" fill="#111"/>
<circle cx="490.2" cy="840" r="2" fill="#111"/>
<circle cx="587" cy="851.2" r="2" fill="#111"/>
<circle cx="472.8" cy="805.3" r="2" fill="#111"/>
<circle cx="481.9" cy="796.5" r="1.3" fill="#bbb" stroke="#666" stroke-width="0.6"/>
<circle cx="594.7" cy="809.5" r="1.3" fill="#bbb" stroke="#666" stroke-width="0.6"/>
<line x1="656.7" y1="751.4" x2="656.7" y2="836.2" stroke="#1a1a1a" stroke-width="1.3" />
<line x1="616" y1="866" x2="656.7" y2="836.2" stroke="#1a1a1a" stroke-width="1.3" />
<line x1="616" y1="863" x2="656.7" y2="833.6" stroke="#1a1a1a" stroke-width="1.1" />
<line x1="274.2" y1="801.6" x2="274.2" y2="849.4" stroke="#555" stroke-width="1" />
<line x1="272" y1="804.2" x2="277" y2="800" stroke="#555" stroke-width="1" />
<line x1="272" y1="850.6" x2="277" y2="846.4" stroke="#555" stroke-width="1" />
<line x1="277.8" y1="801.9" x2="337.3" y2="809" stroke="#555" stroke-width="1" stroke-dasharray="7,4"/>
<line x1="277.8" y1="848.6" x2="330.7" y2="854.7" stroke="#555" stroke-width="1" stroke-dasharray="7,4"/>
<text x="251.2" y="823.6" font-family="Liberation Mono" font-size="10.5" font-weight="normal" text-anchor="middle" fill="#666" textLength="34.5" lengthAdjust="spacingAndGlyphs">190mm</text>
<polygon points="330.6,767.2 433.5,779.6 434.2,867 330.9,855.1" fill="white" stroke="#1a1a1a" stroke-width="1.3" stroke-linejoin="round" />
<circle cx="417.7" cy="847.5" r="10.3" fill="white" stroke="#111" stroke-width="1.7"/>
<text x="417.7" y="852.4" font-family="Liberation Sans" font-size="13.2" font-weight="bold" text-anchor="middle" fill="#111" stroke="#111" stroke-width="0.35">17</text>
<circle cx="382.3" cy="829.8" r="4.3" fill="none" stroke="#222" stroke-width="1"/>
<line x1="355.6" y1="775.8000000000001" x2="359.2" y2="773.3000000000001" stroke="#111" stroke-width="1.0" />
<circle cx="355.6" cy="775.9000000000001" r="1.25" fill="#111"/>
<line x1="378.3" y1="778.1" x2="381.9" y2="775.6" stroke="#111" stroke-width="1.0" />
<circle cx="378.3" cy="778.2" r="1.25" fill="#111"/>
<line x1="401.0" y1="780.0" x2="404.59999999999997" y2="777.5" stroke="#111" stroke-width="1.0" />
<circle cx="401.0" cy="780.1" r="1.25" fill="#111"/>
<line x1="423.6" y1="783.1" x2="427.2" y2="780.6" stroke="#111" stroke-width="1.0" />
<circle cx="423.6" cy="783.2" r="1.25" fill="#111"/>
<line x1="378.3" y1="816.1" x2="381.9" y2="813.6" stroke="#111" stroke-width="1.0" />
<circle cx="378.3" cy="816.2" r="1.25" fill="#111"/>
<line x1="401.0" y1="818.6" x2="404.59999999999997" y2="816.1" stroke="#111" stroke-width="1.0" />
<circle cx="401.0" cy="818.7" r="1.25" fill="#111"/>
<line x1="423.6" y1="821.8000000000001" x2="427.2" y2="819.3000000000001" stroke="#111" stroke-width="1.0" />
<circle cx="423.6" cy="821.9000000000001" r="1.25" fill="#111"/>
<line x1="331.8" y1="860.0" x2="335.4" y2="857.5" stroke="#111" stroke-width="1.0" />
<circle cx="331.8" cy="860.1" r="1.25" fill="#111"/>
<line x1="355.40000000000003" y1="862.4" x2="359.0" y2="859.9" stroke="#111" stroke-width="1.0" />
<circle cx="355.40000000000003" cy="862.5" r="1.25" fill="#111"/>
<line x1="378.0" y1="864.9" x2="381.59999999999997" y2="862.4" stroke="#111" stroke-width="1.0" />
<circle cx="378.0" cy="865.0" r="1.25" fill="#111"/>
<line x1="400.6" y1="867.5" x2="404.2" y2="865.0" stroke="#111" stroke-width="1.0" />
<circle cx="400.6" cy="867.6" r="1.25" fill="#111"/>
<line x1="423.3" y1="870.5" x2="426.9" y2="868.0" stroke="#111" stroke-width="1.0" />
<circle cx="423.3" cy="870.6" r="1.25" fill="#111"/>
<line x1="334.6" y1="814.1" x2="338.2" y2="811.6" stroke="#111" stroke-width="1.0" />
<circle cx="334.6" cy="814.2" r="1.25" fill="#111"/>
<line x1="335.6" y1="807.1" x2="339.2" y2="804.6" stroke="#111" stroke-width="1.0" />
<circle cx="335.6" cy="807.2" r="1.25" fill="#111"/>
<polyline points="355.8,813 371.9,789.4 376.6,789.4" fill="none" stroke="#222" stroke-width="0.9" stroke-linejoin="round" />
<text x="377" y="796.6" font-family="Liberation Sans" font-size="20.14" font-weight="normal" text-anchor="start" fill="#111" textLength="28.5" lengthAdjust="spacingAndGlyphs" stroke="#111" stroke-width="0.45">W4</text>
<path d="M340.4,829.6 L340.6,847.3 L339.2,847.3 L338.6,862.5 Q342.5,865 347,862.5 L346.7,847.3 L345.6,847.3 L345.6,829.6 Z" fill="white" stroke="#111" stroke-width="1.1" stroke-linejoin="round"/>
<line x1="339.2" y1="847.3" x2="346.7" y2="847.3" stroke="#1a1a1a" stroke-width="1.1" />
<circle cx="349.9" cy="817.6" r="4.5" fill="white" stroke="#111" stroke-width="1.1"/>
<path d="M332.6,831.3 Q332.5,822 337.5,816.6 L346.8,815.2 Q350.8,818.5 350.2,821.8 Q349,826 344.2,828.6 L341,830 L339.8,832.3 Q338.4,827.5 337.5,825.5 Q336,826 335.5,829.5 Z" fill="white" stroke="#111" stroke-width="1.15" stroke-linejoin="round"/>
<path d="M337.5,816.8 L346.8,815.3 L347.8,818.2 L337.6,820 Z" fill="#1a1a1a"/>
<path d="M341.5,817.3 L345.5,816.7 L345.5,818 L341.5,818.6 Z" fill="#888"/>
<line x1="341.2" y1="829.8" x2="346" y2="820" stroke="#333" stroke-width="0.8" />
<line x1="125.6" y1="1003.5" x2="618.3" y2="1003.5" stroke="#1a1a1a" stroke-width="1.3" />
<line x1="125.6" y1="1008.3" x2="618.3" y2="1008.3" stroke="#1a1a1a" stroke-width="1.3" />
<line x1="618.3" y1="1003.5" x2="618.3" y2="1008.3" stroke="#1a1a1a" stroke-width="1.3" />
<line x1="125.6" y1="1003.5" x2="125.6" y2="1008.3" stroke="#1a1a1a" stroke-width="1.3" />
<line x1="157.5" y1="1013.4" x2="306.3" y2="1013.4" stroke="#1a1a1a" stroke-width="1.3" />
<line x1="320.3" y1="1013.4" x2="428.3" y2="1013.4" stroke="#1a1a1a" stroke-width="1.3" />
<line x1="436.5" y1="1013.4" x2="590.7" y2="1013.4" stroke="#1a1a1a" stroke-width="1.3" />
<polyline points="125.6,1008.3 128.2,1102.8" fill="none" stroke="#1a1a1a" stroke-width="1.3" stroke-linejoin="round" />
<line x1="130.6" y1="1008.3" x2="132.5" y2="1102.5" stroke="#555" stroke-width="0.9" />
<line x1="130.6" y1="1008.3" x2="157.5" y2="1013.4" stroke="#1a1a1a" stroke-width="1.3" />
<line x1="157.9" y1="1013.4" x2="158.9" y2="1098.1" stroke="#1a1a1a" stroke-width="1.3" />
<line x1="128.2" y1="1102.8" x2="158.9" y2="1098.1" stroke="#1a1a1a" stroke-width="1.3" />
<line x1="306.5" y1="1008.3" x2="306.7" y2="1102.5" stroke="#1a1a1a" stroke-width="1.3" />
<line x1="311" y1="1008.4" x2="311.5" y2="1102.5" stroke="#777" stroke-width="0.8" />
<line x1="311" y1="1008.4" x2="319.6" y2="1013.2" stroke="#1a1a1a" stroke-width="1.2" />
<line x1="320.3" y1="1013.2" x2="320.3" y2="1098.1" stroke="#1a1a1a" stroke-width="1.3" />
<line x1="311.5" y1="1102.5" x2="320.3" y2="1098.1" stroke="#1a1a1a" stroke-width="1.2" />
<line x1="432" y1="1008.4" x2="428.3" y2="1013.2" stroke="#1a1a1a" stroke-width="1.2" />
<line x1="428.3" y1="1013.2" x2="428.3" y2="1098.1" stroke="#1a1a1a" stroke-width="1.3" />
<line x1="432" y1="1008.4" x2="431.8" y2="1102.5" stroke="#1a1a1a" stroke-width="1.1" />
<line x1="436.3" y1="1008.4" x2="436.3" y2="1102.5" stroke="#1a1a1a" stroke-width="1.3" />
<line x1="428.3" y1="1098.1" x2="431.8" y2="1102.5" stroke="#1a1a1a" stroke-width="1.1" />
<rect x="311.5" y="1047.3" width="120.3" height="5.3" rx="1" fill="white" stroke="#1a1a1a" stroke-width="1.2"/>
<circle cx="374" cy="1069.3" r="4.7" fill="none" stroke="#222" stroke-width="1.1"/>
<line x1="590.7" y1="1014" x2="612.1" y2="1009" stroke="#1a1a1a" stroke-width="1.3" />
<line x1="590.7" y1="1014" x2="589" y2="1098.2" stroke="#1a1a1a" stroke-width="1.3" />
<line x1="589" y1="1098.2" x2="612.1" y2="1103.1" stroke="#1a1a1a" stroke-width="1.3" />
<line x1="612.1" y1="1009" x2="612.1" y2="1103.1" stroke="#1a1a1a" stroke-width="1.3" />
<line x1="615.4" y1="1008.3" x2="615.4" y2="1103.1" stroke="#1a1a1a" stroke-width="1.3" />
<polyline points="618.3,1013.5 674.9,1013.5 673.2,1098.2" fill="none" stroke="#1a1a1a" stroke-width="1.2" stroke-linejoin="round" />
<circle cx="647.6" cy="1046.2" r="1.3" fill="#111"/>
<line x1="158.9" y1="1098.1" x2="306.7" y2="1098.1" stroke="#1a1a1a" stroke-width="1.2" />
<line x1="320.3" y1="1098.1" x2="428.3" y2="1098.1" stroke="#1a1a1a" stroke-width="1.2" />
<line x1="436.3" y1="1098.1" x2="589" y2="1098.1" stroke="#1a1a1a" stroke-width="1.2" />
<line x1="615.4" y1="1098.2" x2="673.2" y2="1098.2" stroke="#1a1a1a" stroke-width="1.2" />
<line x1="673.2" y1="1098.2" x2="703.8" y2="1104" stroke="#1a1a1a" stroke-width="1.2" />
<line x1="128.2" y1="1102.8" x2="703.8" y2="1103.6" stroke="#1a1a1a" stroke-width="1.2" />
<line x1="128.2" y1="1108.2" x2="703.8" y2="1108.6" stroke="#1a1a1a" stroke-width="1.3" />
<line x1="128.2" y1="1102.8" x2="128.2" y2="1108.2" stroke="#1a1a1a" stroke-width="1.3" />
<line x1="703.8" y1="1103.6" x2="703.8" y2="1108.6" stroke="#1a1a1a" stroke-width="1.3" />
<circle cx="177.4" cy="1045.6" r="1.3" fill="#111"/>
<circle cx="296.8" cy="1045.6" r="1.3" fill="#111"/>
<circle cx="451.3" cy="1045.8" r="1.3" fill="#111"/>
<circle cx="571" cy="1045.8" r="1.3" fill="#111"/>
<line x1="141" y1="1019.2" x2="156" y2="1019.2" stroke="#444" stroke-width="0.9" stroke-dasharray="2.5,2"/>
<line x1="159" y1="1021.3" x2="168.5" y2="1021.3" stroke="#444" stroke-width="0.9" stroke-dasharray="2.5,2"/>
<ellipse cx="152.2" cy="1021.7" rx="1.0" ry="1.9" fill="#111" stroke="none" stroke-width="1" transform="rotate(0 152.2 1021.7)"/>
<ellipse cx="157.8" cy="1019.5" rx="0.9" ry="2" fill="#fff" stroke="#222" stroke-width="0.7" transform="rotate(0 157.8 1019.5)"/>
<ellipse cx="170" cy="1021.3" rx="0.9" ry="2" fill="#333" stroke="#111" stroke-width="0.5" transform="rotate(0 170 1021.3)"/>
<rect x="284.0" y="1017" width="1.8" height="6" fill="#111"/>
<rect x="289.70000000000005" y="1019" width="1.8" height="6" fill="#111"/>
<line x1="292" y1="1021" x2="306" y2="1021" stroke="#444" stroke-width="0.9" stroke-dasharray="2.5,2"/>
<line x1="292" y1="1022.8" x2="306" y2="1022.8" stroke="#444" stroke-width="0.9" stroke-dasharray="2.5,2"/>
<rect x="452.5" y="1018" width="1.8" height="6" fill="#111"/>
<line x1="437.3" y1="1021" x2="452" y2="1021" stroke="#444" stroke-width="0.9" stroke-dasharray="2.5,2"/>
<line x1="437.3" y1="1022.8" x2="452" y2="1022.8" stroke="#444" stroke-width="0.9" stroke-dasharray="2.5,2"/>
<rect x="446.1" y="1019" width="1.8" height="6" fill="#111"/>
<rect x="571.4" y="1018" width="1.8" height="6" fill="#111"/>
<line x1="573.5" y1="1021" x2="607" y2="1021" stroke="#444" stroke-width="0.9" stroke-dasharray="2.5,2"/>
<rect x="583.6" y="1018" width="1.8" height="6" fill="#111"/>
<rect x="592.7" y="1018" width="1.8" height="6" fill="#111"/>
<line x1="141" y1="1089.0" x2="156" y2="1089.0" stroke="#444" stroke-width="0.9" stroke-dasharray="2.5,2"/>
<line x1="159" y1="1091.1" x2="168.5" y2="1091.1" stroke="#444" stroke-width="0.9" stroke-dasharray="2.5,2"/>
<ellipse cx="152.2" cy="1091.5" rx="1.0" ry="1.9" fill="#111" stroke="none" stroke-width="1" transform="rotate(0 152.2 1091.5)"/>
<ellipse cx="157.8" cy="1089.3" rx="0.9" ry="2" fill="#fff" stroke="#222" stroke-width="0.7" transform="rotate(0 157.8 1089.3)"/>
<ellipse cx="170" cy="1091.1" rx="0.9" ry="2" fill="#333" stroke="#111" stroke-width="0.5" transform="rotate(0 170 1091.1)"/>
<rect x="284.0" y="1086.8" width="1.8" height="6" fill="#111"/>
<rect x="289.70000000000005" y="1088.8" width="1.8" height="6" fill="#111"/>
<line x1="292" y1="1090.8" x2="306" y2="1090.8" stroke="#444" stroke-width="0.9" stroke-dasharray="2.5,2"/>
<line x1="292" y1="1092.6" x2="306" y2="1092.6" stroke="#444" stroke-width="0.9" stroke-dasharray="2.5,2"/>
<rect x="452.5" y="1087.8" width="1.8" height="6" fill="#111"/>
<line x1="437.3" y1="1090.8" x2="452" y2="1090.8" stroke="#444" stroke-width="0.9" stroke-dasharray="2.5,2"/>
<line x1="437.3" y1="1092.6" x2="452" y2="1092.6" stroke="#444" stroke-width="0.9" stroke-dasharray="2.5,2"/>
<rect x="446.1" y="1088.8" width="1.8" height="6" fill="#111"/>
<rect x="571.4" y="1087.8" width="1.8" height="6" fill="#111"/>
<line x1="573.5" y1="1090.8" x2="607" y2="1090.8" stroke="#444" stroke-width="0.9" stroke-dasharray="2.5,2"/>
<rect x="583.6" y="1087.8" width="1.8" height="6" fill="#111"/>
<rect x="592.7" y="1087.8" width="1.8" height="6" fill="#111"/>
<ellipse cx="607.8" cy="1023.7" rx="1.6" ry="3.2" fill="#111" stroke="none" stroke-width="1" transform="rotate(0 607.8 1023.7)"/>
<ellipse cx="606.5" cy="1092.5" rx="1" ry="2.2" fill="#fff" stroke="#111" stroke-width="0.8" transform="rotate(0 606.5 1092.5)"/>
<ellipse cx="137" cy="1022.5" rx="2.6" ry="4.6" fill="#111" stroke="none" stroke-width="1" transform="rotate(0 137 1022.5)"/>
<circle cx="139.3" cy="1025" r="1.1" fill="#fff" stroke="#111" stroke-width="0.5"/>
<ellipse cx="140" cy="1091.8" rx="1.1" ry="2" fill="#111" stroke="none" stroke-width="1" transform="rotate(0 140 1091.8)"/>
<polyline points="169.8,1021 186.8,1039.5 206.5,1039.5" fill="none" stroke="#222" stroke-width="0.9" stroke-linejoin="round" />
<path d="M209.8,1033.0500000000002 L209.8,1045.75 M208,1033.0500000000002 L211.6,1033.0500000000002 M208,1045.75 L211.6,1045.75" stroke="#111" stroke-width="1.9" fill="none" stroke-linecap="butt"/>
<text x="211.8" y="1046.7" font-family="Liberation Sans" font-size="20.86" font-weight="normal" text-anchor="start" fill="#111" textLength="21.5" lengthAdjust="spacingAndGlyphs" stroke="#111" stroke-width="0.3">20</text>
<path d="M159.5,1099.5 L163.0,1097.7 L165.2,1097.1 L166.2,1094.0 L168.2,1093.8 L169.4,1096.7 L173.8,1099.3 L172.2,1101.0 L168.5,1100.1 L167.3,1101.7 L164.8,1100.3 L162.2,1101.3 Z" fill="#111" stroke="#111" stroke-width="0.6" stroke-linejoin="round"/>
<circle cx="167.2" cy="1098.1" r="0.9" fill="#999"/>
<path d="M273.3,1099.5 L276.8,1097.7 L279.0,1097.1 L280.0,1094.0 L282.0,1093.8 L283.2,1096.7 L287.6,1099.3 L286.0,1101.0 L282.3,1100.1 L281.1,1101.7 L278.6,1100.3 L276.0,1101.3 Z" fill="#111" stroke="#111" stroke-width="0.6" stroke-linejoin="round"/>
<circle cx="281.0" cy="1098.1" r="0.9" fill="#999"/>
<path d="M455.0,1100.4 L458.5,1098.6 L460.7,1098.0 L461.7,1094.9 L463.7,1094.7 L464.9,1097.6 L469.3,1100.2 L467.7,1101.9 L464.0,1101.0 L462.8,1102.6 L460.3,1101.2 L457.7,1102.2 Z" fill="#111" stroke="#111" stroke-width="0.6" stroke-linejoin="round"/>
<circle cx="462.7" cy="1099.0" r="0.9" fill="#999"/>
<path d="M569.2,1101.7 L572.7,1099.9 L574.9,1099.3 L575.9,1096.2 L577.9,1096.0 L579.1,1098.9 L583.5,1101.5 L581.9,1103.2 L578.2,1102.3 L577.0,1103.9 L574.5,1102.5 L571.9,1103.5 Z" fill="#111" stroke="#111" stroke-width="0.6" stroke-linejoin="round"/>
<circle cx="576.9000000000001" cy="1100.3" r="0.9" fill="#999"/>
<path d="M311.5,1024 L321,1028 L321.5,1034.6 L312,1031 Z" fill="#222"/>
<path d="M427.5,1026 L432,1023.7 L432,1036 L427.5,1037 Z" fill="#222"/>
<ellipse cx="221.7" cy="1010.7" rx="2.6" ry="1.4" fill="#555" stroke="#111" stroke-width="0.9" transform="rotate(0 221.7 1010.7)"/>
<ellipse cx="522.2" cy="1010.8" rx="2.6" ry="1.4" fill="#555" stroke="#111" stroke-width="0.9" transform="rotate(0 522.2 1010.8)"/>
<rect x="692.7" y="912.7" width="115.9" height="121.8" fill="white" stroke="#111" stroke-width="2.4"/>
<line x1="694.9" y1="921.4" x2="805.8" y2="926.3" stroke="#222" stroke-width="1.1" />
<ellipse cx="773.5" cy="974.3" rx="6.3" ry="15.8" fill="white" stroke="#222" stroke-width="1" transform="rotate(0 773.5 974.3)"/>
<ellipse cx="727.9" cy="972.3" rx="5" ry="13.9" fill="white" stroke="#222" stroke-width="1" transform="rotate(0 727.9 972.3)"/>
<line x1="727.5" y1="972.3" x2="767.2" y2="973.7" stroke="#333" stroke-width="0.8" />
<line x1="727.6" y1="965.5" x2="727.6" y2="979.5" stroke="#444" stroke-width="0.9" />
<circle cx="727.6" cy="972.4" r="1.7" fill="#ddd" stroke="#333" stroke-width="0.8"/>
<circle cx="726.2" cy="977.5" r="0.7" fill="#333"/>
<circle cx="729" cy="978.5" r="0.7" fill="#333"/>
<circle cx="725.8" cy="969" r="0.6" fill="#555"/>
<path d="M760.8,935.4000000000001 L760.8,950.8 M758.2,935.4000000000001 L763.4,935.4000000000001 M758.2,950.8 L763.4,950.8" stroke="#111" stroke-width="1.4" fill="none" stroke-linecap="butt"/>
<text x="764.2" y="951.5" font-family="Liberation Sans" font-size="24.0" font-weight="normal" text-anchor="start" fill="#111" textLength="24" lengthAdjust="spacingAndGlyphs">20</text>
<text x="716.8" y="1010.2" font-family="Liberation Sans" font-size="24.29" font-weight="normal" text-anchor="start" fill="#111" textLength="20" lengthAdjust="spacingAndGlyphs">K1</text>
</svg>
</body></html>
